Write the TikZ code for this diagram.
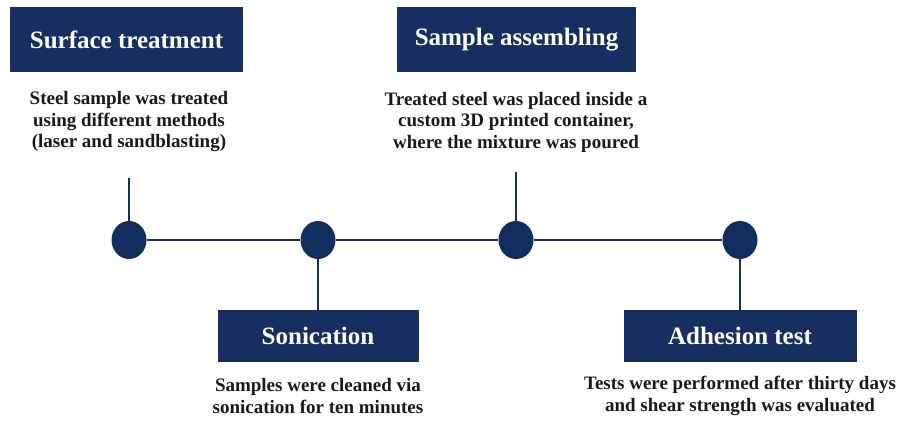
\documentclass[tikz,border=0pt]{standalone}
\usepackage{fontspec}
\setmainfont{Liberation Serif}
\usepackage{tikz}
\usetikzlibrary{positioning,shapes.geometric}
\definecolor{navy}{RGB}{22,47,96}
\definecolor{dotnavy}{RGB}{18,46,94}

\begin{document}
\begin{tikzpicture}[
  x=1pt, y=-1pt,
  stage/.style={rectangle, fill=navy, text=white, inner sep=0pt,
                font=\bfseries\fontsize{25}{29}\selectfont},
  desc/.style={align=center, inner sep=0pt, text=black!90,
               font=\bfseries\fontsize{19}{21.5}\selectfont},
  milestone/.style={ellipse, fill=dotnavy, inner sep=0pt,
                    minimum width=35pt, minimum height=38pt},
  link/.style={draw=navy, line width=2pt},
]
\useasboundingbox (0,0) rectangle (897,423);

% ============================================================
% TIMELINE: four milestones
% ============================================================
\node[milestone] (m1) at (129,240) {};
\node[milestone] (m2) at (318,240) {};
\node[milestone] (m3) at (516,240) {};
\node[milestone] (m4) at (740,240) {};
\draw[link] (m1) -- (m2);
\draw[link] (m2) -- (m3);
\draw[link] (m3) -- (m4);

% ============================================================
% ABOVE: surface treatment, sample assembling
% ============================================================
\node[stage, minimum width=233pt, minimum height=65pt] (surf) at (126.5,39.5) {Surface treatment};
\node[desc] (dsurf) at (129,122)
  {Steel sample was treated\\ using different methods\\ (laser and sandblasting)};
\coordinate (tsurf) at (129,178);
\draw[link] (m1) -- (tsurf);

\node[stage, minimum width=239pt, minimum height=65pt] (asm) at (516.5,39.5) {Sample assembling};
\node[desc] (dasm) at (516,122)
  {Treated steel was placed inside a\\ custom 3D printed container,\\ where the mixture was poured};
\coordinate (tasm) at (516,172);
\draw[link] (m3) -- (tasm);

% ============================================================
% BELOW: sonication, adhesion test
% ============================================================
\node[stage, minimum width=201pt, minimum height=52pt] (son) at (318,336) {Sonication};
\node[desc] (dson) at (318,396)
  {Samples were cleaned via\\ sonication for ten minutes};
\draw[link] (m2) -- (son);

\node[stage, minimum width=233pt, minimum height=52pt] (adh) at (740,336) {Adhesion test};
\node[desc] (dadh) at (740,396)
  {Tests were performed after thirty days\\ and shear strength was evaluated};
\draw[link] (m4) -- (adh);

\end{tikzpicture}
\end{document}
